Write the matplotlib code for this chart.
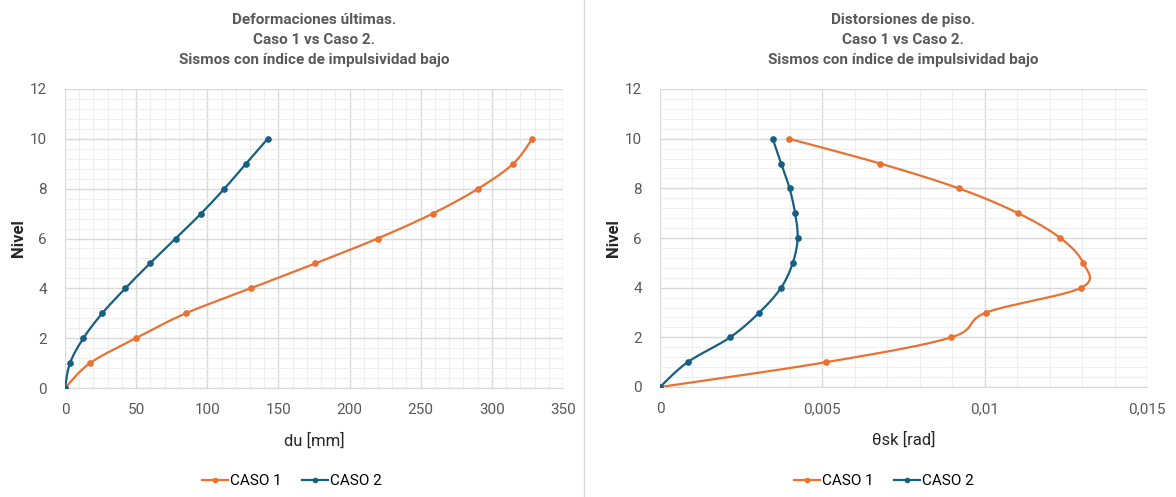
import numpy as np
import matplotlib
matplotlib.use("Agg")
import matplotlib.pyplot as plt
from matplotlib.lines import Line2D
from matplotlib.ticker import MultipleLocator, FuncFormatter

# data
niveles = [0, 1, 2, 3, 4, 5, 6, 7, 8, 9, 10]
du_caso1 = [0, 17.6, 49.9, 85.0, 130.5, 175.9, 219.7, 258.4, 290.4, 315.0, 328.4]
du_caso2 = [0, 3.5, 12.9, 26.2, 42.4, 59.7, 77.8, 95.6, 112.0, 127.2, 142.4]
theta_caso1 = [0, 0.00512, 0.00897, 0.01005, 0.01298, 0.01303, 0.01233, 0.01103, 0.00920, 0.00678, 0.00396]
theta_caso2 = [0, 0.00085, 0.00216, 0.00306, 0.00373, 0.00409, 0.00424, 0.00416, 0.00399, 0.00373, 0.00347]

series_names = ["CASO 1", "CASO 2"]
colors = ["#E97132", "#156082"]
titles = [
    "Deformaciones últimas.\nCaso 1 vs Caso 2.\nSismos con índice de impulsividad bajo",
    "Distorsiones de piso.\nCaso 1 vs Caso 2.\nSismos con índice de impulsividad bajo",
]
xlabels = ["du [mm]", "θsk [rad]"]

GRAY = "#595959"
BODY_FONT = ["Roboto", "DejaVu Sans"]


def smooth(x, y, n=30, t=1/6):
    """Excel-like smoothed line (Catmull-Rom as cubic Bezier)."""
    p = np.column_stack([x, y]).astype(float)
    ext = np.vstack([p[0], p, p[-1]])
    out = [p[:1]]
    s = np.linspace(0, 1, n)[1:, None]
    for i in range(len(p) - 1):
        p0, p1 = ext[i + 1], ext[i + 2]
        c1 = p0 + (ext[i + 2] - ext[i]) * t
        c2 = p1 - (ext[i + 3] - ext[i + 1]) * t
        seg = ((1 - s) ** 3) * p0 + 3 * ((1 - s) ** 2) * s * c1 + 3 * (1 - s) * s ** 2 * c2 + s ** 3 * p1
        out.append(seg)
    pts = np.vstack(out)
    return pts[:, 0], pts[:, 1]


def comma_fmt(v, pos):
    if abs(v) < 1e-12:
        return "0"
    return f"{v:g}".replace(".", ",")


fig = plt.figure(figsize=(11.76, 4.97), dpi=100)
ax1 = fig.add_axes([65/1176, 1 - 388/497, (563 - 65)/1176, (388 - 89)/497])
ax2 = fig.add_axes([660/1176, 1 - 387/497, (1147 - 660)/1176, (387 - 89)/497])

plot_sets = [
    (ax1, [du_caso1, du_caso2], 350, 50, 10),
    (ax2, [theta_caso1, theta_caso2], 0.015, 0.005, 0.001),
]

for k, (ax, xs, xmax, xmaj, xmin) in enumerate(plot_sets):
    for vals, c in zip(xs, colors):
        sx, sy = smooth(vals, niveles)
        ax.plot(sx, sy, color=c, lw=1.6, zorder=3, solid_capstyle="round")
        ax.plot(vals, niveles, ls="none", marker="o", ms=3.8, color=c, zorder=4)

    ax.set_xlim(0, xmax)
    ax.set_ylim(0, 12)
    ax.xaxis.set_major_locator(MultipleLocator(xmaj))
    ax.xaxis.set_minor_locator(MultipleLocator(xmin))
    ax.yaxis.set_major_locator(MultipleLocator(2))
    ax.yaxis.set_minor_locator(MultipleLocator(0.4))
    if k == 1:
        ax.xaxis.set_major_formatter(FuncFormatter(comma_fmt))
    ax.grid(which="major", color="#d9d9d9", lw=1.0)
    ax.grid(which="minor", color="#eeeeee", lw=0.8)
    ax.set_axisbelow(True)
    for side in ["top", "right", "left"]:
        ax.spines[side].set_visible(False)
    ax.spines["bottom"].set_color("#d9d9d9")
    ax.tick_params(which="both", length=0)
    ax.tick_params(axis="x", pad=11, labelsize=11, labelcolor=GRAY)
    ax.tick_params(axis="y", pad=13, labelsize=11, labelcolor=GRAY)
    for lab in ax.get_xticklabels() + ax.get_yticklabels():
        lab.set_family(BODY_FONT)

    ax.set_title(titles[k], fontsize=11, fontweight="bold", color=GRAY,
                 family=BODY_FONT, linespacing=1.55, pad=18)
    ax.set_xlabel(xlabels[k], fontsize=12, color="#262626", family=BODY_FONT, labelpad=11)
    ax.set_ylabel("Nivel", fontsize=12, fontweight="bold", color="#262626",
                  family=BODY_FONT, labelpad=3)

    handles = [Line2D([], [], color=c, lw=1.6, marker="o", ms=3) for c in colors]
    cx = 292/1176 if k == 0 else 884/1176
    fig.legend(handles, series_names, loc="center", bbox_to_anchor=(cx, 1 - 481/497),
               ncol=2, frameon=False, handlelength=1.7, handletextpad=0.15,
               columnspacing=1.3, prop={"family": BODY_FONT, "size": 11})

# thin separator between the two charts
fig.add_artist(Line2D([584/1176, 584/1176], [0, 1], color="#d9d9d9", lw=1.0))

fig.savefig("out.png", dpi=100)
